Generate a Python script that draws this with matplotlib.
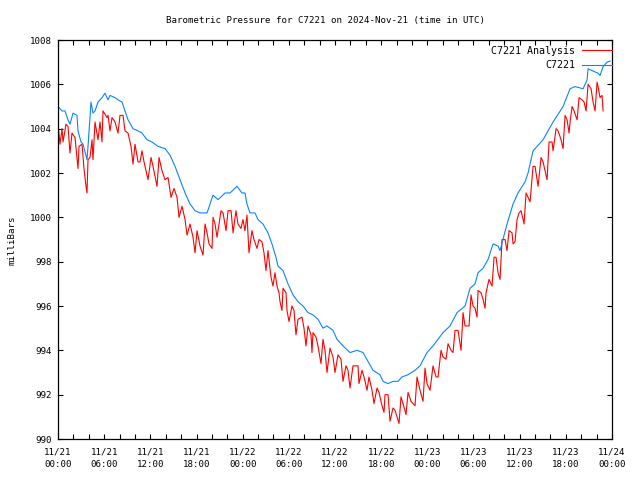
import numpy as np
import matplotlib
matplotlib.use("Agg")
import matplotlib.pyplot as plt

# hours since 2024-11-21 00:00 UTC, pressure in mbar
analysis_hours = [
    0.00, 0.26, 0.52, 0.65, 1.04, 1.30, 1.56, 1.82, 2.21, 2.60, 2.73, 3.12, 3.38, 3.64, 3.77,
    3.90, 4.16, 4.42, 4.55, 4.81, 5.20, 5.46, 5.72, 5.85, 6.37, 6.50, 6.76, 7.02, 7.41, 7.80,
    8.06, 8.45, 8.71, 9.10, 9.49, 9.75, 10.01, 10.40, 10.66, 10.92, 11.18, 11.70, 12.09, 12.35,
    12.87, 13.13, 13.52, 13.91, 14.30, 14.69, 15.08, 15.47, 15.73, 16.12, 16.51, 16.77, 17.16,
    17.55, 17.81, 18.07, 18.46, 18.85, 19.11, 19.37, 19.63, 20.02, 20.15, 20.41, 20.67, 21.19,
    21.45, 21.84, 22.10, 22.49, 22.75, 23.13, 23.39, 23.78, 24.04, 24.30, 24.56, 24.82, 25.21,
    25.47, 25.86, 26.12, 26.51, 26.77, 27.03, 27.29, 27.68, 27.94, 28.20, 28.46, 28.72, 28.85,
    29.11, 29.24, 29.63, 29.76, 30.02, 30.41, 30.67, 30.93, 31.19, 31.71, 31.97, 32.23, 32.49,
    32.88, 33.01, 33.14, 33.53, 33.79, 34.18, 34.44, 34.70, 34.96, 35.35, 35.74, 36.00, 36.39,
    36.78, 37.04, 37.43, 37.69, 37.95, 38.34, 38.99, 39.12, 39.51, 39.77, 40.16, 40.42, 40.81,
    41.07, 41.46, 41.72, 42.11, 42.37, 42.50, 42.89, 43.15, 43.54, 43.80, 44.06, 44.32, 44.58,
    44.84, 45.23, 45.49, 45.88, 46.14, 46.40, 46.66, 47.05, 47.44, 47.70, 47.96, 48.35, 48.74,
    49.13, 49.39, 49.78, 50.04, 50.43, 50.69, 51.08, 51.34, 51.60, 51.99, 52.38, 52.64, 52.90,
    53.42, 53.68, 53.94, 54.20, 54.46, 54.59, 54.98, 55.24, 55.50, 55.63, 56.02, 56.41, 56.67,
    56.93, 57.19, 57.45, 57.71, 58.10, 58.36, 58.62, 59.01, 59.14, 59.40, 59.66, 59.92, 60.18,
    60.44, 60.57, 60.83, 61.09, 61.35, 61.74, 62.00, 62.26, 62.39, 62.78, 63.04, 63.30, 63.56,
    63.82, 64.21, 64.34, 64.73, 64.99, 65.38, 65.64, 65.90, 66.16, 66.42, 66.55, 66.81, 67.07,
    67.46, 67.72, 68.11, 68.37, 68.63, 68.89, 69.28, 69.54, 69.80, 70.06, 70.19, 70.45, 70.71,
    70.84,
]
analysis_mbar = [
    1004.2, 1003.3, 1004.0, 1003.4, 1004.2, 1004.1, 1002.9, 1003.8, 1003.6, 1002.2, 1003.2,
    1003.3, 1002.2, 1001.4, 1001.1, 1002.6, 1002.7, 1003.5, 1002.6, 1004.3, 1003.5, 1004.3,
    1003.4, 1004.8, 1004.5, 1004.6, 1003.9, 1004.5, 1004.3, 1003.8, 1004.6, 1004.6, 1003.9,
    1003.8, 1003.2, 1002.4, 1003.3, 1002.5, 1002.5, 1003.0, 1002.5, 1001.7, 1002.7, 1002.3,
    1001.4, 1002.7, 1002.1, 1001.7, 1001.8, 1000.9, 1001.3, 1000.9, 1000.0, 1000.5, 999.9,
    999.2, 999.7, 999.1, 998.4, 999.4, 998.7, 998.3, 999.7, 999.3, 998.8, 998.6, 1000.0,
    999.7, 999.1, 1000.3, 1000.2, 999.4, 1000.3, 1000.3, 999.3, 1000.3, 999.7, 999.5, 999.9,
    999.4, 1000.1, 998.4, 999.4, 999.0, 998.6, 999.0, 998.9, 998.4, 997.6, 998.5, 997.3,
    996.9, 997.5, 996.9, 996.6, 996.2, 995.8, 996.8, 996.6, 995.8, 995.3, 996.0, 995.8,
    994.7, 995.4, 995.5, 995.0, 994.2, 995.1, 994.7, 993.9, 994.8, 994.6, 994.2, 993.4,
    994.5, 994.0, 993.0, 994.1, 993.7, 993.0, 993.8, 993.6, 992.6, 993.3, 993.1, 992.3,
    993.3, 993.3, 992.5, 993.1, 992.8, 992.2, 992.8, 992.2, 991.6, 992.3, 992.1, 991.5,
    991.2, 992.0, 992.0, 990.8, 991.4, 991.3, 991.0, 990.7, 991.9, 991.6, 991.1, 992.1,
    991.7, 991.6, 991.5, 992.8, 992.2, 991.7, 993.2, 992.5, 992.2, 993.3, 992.8, 992.8,
    994.0, 993.7, 993.6, 994.3, 994.0, 993.9, 994.9, 994.9, 994.0, 995.7, 995.1, 995.1,
    996.5, 996.0, 995.9, 995.5, 996.7, 996.6, 996.3, 995.9, 996.6, 997.2, 996.9, 998.2,
    998.2, 997.5, 997.2, 999.0, 999.0, 998.5, 999.4, 999.3, 998.8, 998.9, 999.9, 1000.2,
    1000.3, 999.9, 999.7, 1001.1, 1000.9, 1000.7, 1002.3, 1002.3, 1001.7, 1001.4, 1002.7,
    1002.5, 1002.1, 1001.7, 1003.4, 1003.4, 1003.0, 1004.0, 1003.9, 1003.5, 1003.1, 1004.6,
    1004.4, 1003.8, 1004.3, 1005.0, 1004.8, 1004.4, 1005.4, 1005.3, 1005.2, 1004.8, 1006.0,
    1005.8, 1005.2, 1004.8, 1006.1, 1005.9, 1005.4, 1005.5, 1004.8,
]

station_hours = [
    0.00, 0.52, 0.91, 1.30, 1.56, 1.95, 2.47, 2.60, 2.99, 3.25, 3.77, 3.90, 4.29, 4.55, 4.81,
    5.20, 5.72, 6.11, 6.50, 6.76, 7.41, 7.80, 8.32, 8.71, 9.10, 9.75, 10.40, 10.92, 11.57,
    12.22, 13.00, 13.91, 14.56, 15.21, 15.86, 16.51, 17.16, 17.81, 18.46, 19.37, 19.76, 20.15,
    20.80, 21.71, 22.36, 23.26, 23.91, 24.30, 24.56, 24.95, 25.60, 25.99, 26.64, 27.29, 27.81,
    28.33, 28.59, 29.24, 29.89, 30.54, 31.19, 31.84, 32.49, 33.14, 33.79, 34.44, 34.96, 35.74,
    36.26, 37.04, 37.95, 38.86, 39.64, 40.29, 40.94, 41.85, 42.24, 42.89, 43.54, 44.19, 44.71,
    45.49, 46.40, 47.05, 47.96, 48.74, 49.39, 50.04, 50.95, 51.86, 52.90, 53.55, 54.20, 54.59,
    55.24, 55.89, 56.54, 57.19, 57.45, 58.36, 59.14, 59.79, 60.70, 61.09, 61.74, 63.04, 64.34,
    65.64, 66.55, 67.20, 68.24, 68.76, 68.89, 69.54, 70.19, 70.45, 70.84, 71.35, 71.75,
]
station_mbar = [
    1005.0, 1004.8, 1004.8, 1004.4, 1004.2, 1004.7, 1004.6, 1003.9, 1003.4, 1003.3, 1002.6,
    1003.2, 1005.2, 1004.7, 1004.8, 1005.2, 1005.4, 1005.6, 1005.3, 1005.5, 1005.4, 1005.3,
    1005.2, 1004.8, 1004.4, 1004.0, 1003.9, 1003.8, 1003.5, 1003.4, 1003.2, 1003.1, 1002.8,
    1002.3, 1001.7, 1001.1, 1000.6, 1000.3, 1000.2, 1000.2, 1000.6, 1001.0, 1000.8, 1001.1,
    1001.1, 1001.4, 1001.1, 1001.1, 1000.6, 1000.2, 1000.2, 999.9, 999.7, 999.3, 998.8,
    998.2, 997.8, 997.6, 997.0, 996.5, 996.2, 996.0, 995.7, 995.6, 995.4, 995.0, 995.1,
    994.9, 994.5, 994.2, 993.9, 994.0, 993.9, 993.5, 993.1, 992.9, 992.6, 992.5, 992.6,
    992.6, 992.8, 992.9, 993.1, 993.3, 993.9, 994.2, 994.5, 994.8, 995.1, 995.7, 996.0,
    996.8, 997.0, 997.5, 997.7, 998.1, 998.8, 998.7, 998.5, 999.7, 1000.6, 1001.1, 1001.6,
    1002.0, 1003.0, 1003.5, 1004.3, 1005.0, 1005.8, 1005.9, 1005.8, 1006.2, 1006.7, 1006.6,
    1006.5, 1006.4, 1006.8, 1007.0, 1007.05,
]

tick_hours = [0, 6, 12, 18, 24, 30, 36, 42, 48, 54, 60, 66, 72]
tick_labels = ["11/21\n00:00", "11/21\n06:00", "11/21\n12:00", "11/21\n18:00",
               "11/22\n00:00", "11/22\n06:00", "11/22\n12:00", "11/22\n18:00",
               "11/23\n00:00", "11/23\n06:00", "11/23\n12:00", "11/23\n18:00",
               "11/24\n00:00"]

FONT = "DejaVu Sans Mono"
FS = 6.6
plt.rcParams["font.family"] = FONT
plt.rcParams["font.size"] = FS

fig = plt.figure(figsize=(6.4, 4.8), dpi=100)
ax = fig.add_axes([58 / 640, 1 - 439 / 480, (612 - 58) / 640, (439 - 40) / 480])

ax.plot(analysis_hours, analysis_mbar, color="#ff0000", lw=0.8, label="C7221 Analysis")
ax.plot(station_hours, station_mbar, color="#0a84ff", lw=0.8, label="C7221")

ax.set_xlim(0, 72)
ax.set_ylim(990, 1008)
ax.set_xticks(tick_hours)
ax.set_xticklabels(tick_labels, linespacing=1.55)
ax.set_xticks(np.arange(0, 73, 2), minor=True)
ax.set_yticks(np.arange(990, 1009, 2))

ax.tick_params(which="both", direction="in", top=True, right=True, width=0.8,
               length=3.5, colors="black")
ax.tick_params(axis="x", which="major", pad=6)
ax.tick_params(axis="y", pad=4.5)
for s in ax.spines.values():
    s.set_linewidth(0.9)

leg = ax.legend(loc="upper right", bbox_to_anchor=(1.0, 0.985), frameon=False,
                markerfirst=False, handlelength=3.0, handletextpad=0.7,
                labelspacing=0.45, borderpad=0, borderaxespad=0, fontsize=7.2)

fig.text(325 / 640, 1 - 20 / 480, "Barometric Pressure for C7221 on 2024-Nov-21 (time in UTC)",
         ha="center", va="center", fontsize=FS)
fig.text(12 / 640, 1 - 240 / 480, "milliBars", rotation=90, ha="center", va="center",
         fontsize=FS)

fig.savefig("out.png", dpi=100)
